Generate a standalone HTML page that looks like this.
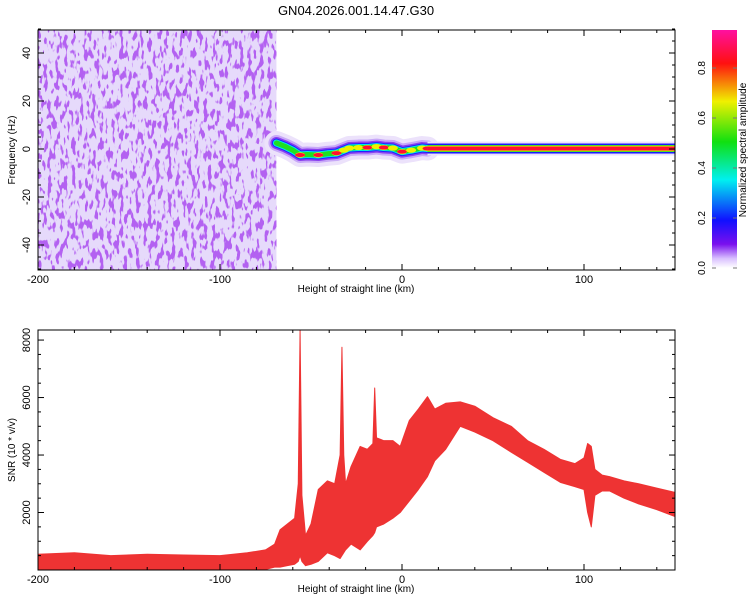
<!DOCTYPE html>
<html><head><meta charset="utf-8"><style>
html,body{margin:0;padding:0;background:#fff;}
svg{display:block;font-family:"Liberation Sans",sans-serif;}
</style></head><body>
<svg id="chart" width="750" height="600" viewBox="0 0 750 600">
<defs>
  <filter id="speck" x="0" y="0" width="1" height="1">
    <feTurbulence type="fractalNoise" baseFrequency="0.25 0.1" numOctaves="2" seed="7" result="n"/>
    <feColorMatrix in="n" type="matrix" values="0 0 0 0 0.45  0 0 0 0 0.12  0 0 0 0 0.88  0 0 0 12 -6.4"/>
  </filter>
  <linearGradient id="cbar" x1="0" y1="1" x2="0" y2="0">
    <stop offset="0" stop-color="#ffffff"/>
    <stop offset="0.04" stop-color="#d9c0ff"/>
    <stop offset="0.1" stop-color="#7a10ee"/>
    <stop offset="0.2" stop-color="#1010ff"/>
    <stop offset="0.37" stop-color="#00f0f0"/>
    <stop offset="0.53" stop-color="#10e010"/>
    <stop offset="0.7" stop-color="#f0f000"/>
    <stop offset="0.86" stop-color="#ff1010"/>
    <stop offset="1" stop-color="#ff10a0"/>
  </linearGradient>
  <clipPath id="clipTop"><rect x="38" y="30" width="637" height="240"/></clipPath>
  <clipPath id="clipBot"><rect x="38" y="330" width="637" height="240"/></clipPath>
</defs>
<text x="356" y="15" text-anchor="middle" font-size="13">GN04.2026.001.14.47.G30</text>
<g id="topPanel"></g>
<g id="botPanel"></g>
<g id="cbPanel"></g>
</svg>
<script>
// ---- data ----
const xTicks = [-200, -100, 0, 100];
const xTickLabels = ["-200", "-100", "0", "100"];
const fTicks = [-40, -20, 0, 20, 40];
const snrTicks = [2000, 4000, 6000, 8000];
const cbTicks = [0.0, 0.2, 0.4, 0.6, 0.8];
const noiseKm = [-200, -69];
const trackKm  = [-69, -64, -60, -56, -52, -46, -41, -36, -32, -29, -24, -19, -14, -10, -5, 0, 5, 11, 14];
const trackHz  = [2.5, 1.0, -0.5, -2.5, -2.3, -2.5, -2.0, -1.7, -0.5, 0.4, 0.6, 0.6, 1.0, 0.6, 0.4, -1.1, -0.5, 0.4, 0.2];
const trackAmp = [0.6, 0.55, 0.6, 0.9, 0.6, 0.95, 0.6, 0.9, 0.7, 0.8, 0.75, 0.9, 0.7, 0.9, 0.7, 0.95, 0.7, 0.8, 0.9];
const bandKm = [14, 150];
const bandHz = 0.2;
const snrKm   = [-200,-180,-160,-140,-120,-100,-85,-75,-70,-67,-63,-59,-57,-56,-55,-53,-50,-46,-41,-37,-34,-33,-32,-31,-28,-23,-19,-16,-15,-14,-10,-5,-1,4,9,14,18,24,32,40,50,60,69,78,87,95,100,102,104,106,110,114,122,130,140,150];
const snrLow  = [0,   20,  0,   10,  0,   0,   0,   20,  100, 100, 150, 200, 300, 500, 300, 150, 200, 300, 600, 500, 400, 500, 600, 700, 900, 700, 1000,1200,1300,1500,1600,1800,2000,2400,2800,3250,3800,4200,5000,4800,4500,4100,3750,3400,3050,2900,2800,2000,1500,2600,2750,2750,2500,2300,2100,1860];
const snrHigh = [550, 600, 500, 550, 520, 500, 600, 700, 900, 1400,1600,1800,3000,8350,2600,1200,1600,2800,3100,3000,4000,7750,4000,3000,3600,4300,4200,4400,6330,4600,4500,4500,4300,5200,5600,6030,5600,5800,5850,5700,5300,5000,4500,4200,3850,3700,3900,4400,4300,3500,3300,3250,3100,3000,2850,2700];

// ---- axes ----
const X0=38, X1=675;
const xs = km => X0 + (km + 200) / 350 * (X1 - X0);
const yTop = hz => 149 - hz * 2.4;
const yBot = v => 570 - v / 8350 * 240;
const NS = "http://www.w3.org/2000/svg";
function mk(tag, attrs, parent) {
  const e = document.createElementNS(NS, tag);
  for (const k in attrs) e.setAttribute(k, attrs[k]);
  parent.appendChild(e);
  return e;
}
const gTop = document.getElementById('topPanel');
const gBot = document.getElementById('botPanel');
const gCb = document.getElementById('cbPanel');

// ---- spectrogram ----
const gT = mk('g', {'clip-path': 'url(#clipTop)'}, gTop);
const bg = mk('rect', {x: xs(noiseKm[0]), y: 30, width: xs(noiseKm[1]) - xs(noiseKm[0]), height: 240, fill: '#e6dafb'}, gT);


const sp = mk('rect', {x: xs(noiseKm[0]), y: 30, width: xs(noiseKm[1]) - xs(noiseKm[0]), height: 240, fill: '#fff', filter: 'url(#speck)'}, gT);


const pts = trackKm.map((k, i) => xs(k) + ',' + yTop(trackHz[i])).join(' ');
const layers = [['#ece2fb', 24], ['#c8a8f8', 16], ['#8a40f0', 12], ['#2020ff', 9], ['#00e8e8', 7], ['#20e020', 5]];
layers.forEach(([c, w], i) => {
  const p = mk('polyline', {points: pts, fill: 'none', stroke: c, 'stroke-width': w, 'stroke-linejoin': 'round', 'stroke-linecap': 'round'}, gT);
  
  
});
trackKm.forEach((k, i) => {
  const a = trackAmp[i];
  if (a >= 0.7) {
    const e1 = mk('ellipse', {cx: xs(k), cy: yTop(trackHz[i]), rx: 5, ry: 2.6, fill: '#f0f000'}, gT);
    
    
  }
  if (a >= 0.85) {
    const e2 = mk('ellipse', {cx: xs(k), cy: yTop(trackHz[i]), rx: 5, ry: 2, fill: '#ff1030'}, gT);
    
    
  }
});
const bx0 = xs(bandKm[0]), bx1 = xs(bandKm[1]), bc = yTop(bandHz);
[['#ece2fb', 14], ['#1818ff', 10], ['#20e020', 7], ['#f0f000', 5.5], ['#ff1030', 4]].forEach(([c, h], i) => {
  const r = mk('rect', {x: bx0, y: bc - h / 2, width: bx1 - bx0, height: h, fill: c}, gT);
  
  
});
const fr = mk('rect', {x: 38, y: 30, width: 637, height: 240, fill: 'none', stroke: '#000', 'stroke-width': 1}, gTop);



// ---- SNR ----
const gB = mk('g', {'clip-path': 'url(#clipBot)'}, gBot);
let d = 'M' + snrKm.map((k, i) => xs(k) + ',' + yBot(snrHigh[i])).join(' L');
for (let i = snrKm.length - 1; i >= 0; i--) d += ' L' + xs(snrKm[i]) + ',' + yBot(snrLow[i]);
d += ' Z';
const area = mk('path', {d: d, fill: '#ee3333', stroke: '#ee3333', 'stroke-width': 1, 'stroke-linejoin': 'round'}, gB);


const fb = mk('rect', {x: 38, y: 330, width: 637, height: 240, fill: 'none', stroke: '#000', 'stroke-width': 1}, gBot);



// ---- ticks ----
function xAxis(parent, yT, yB, labelY, name) {
  for (let k = -200; k <= 150; k += 20) {
    const major = k % 100 === 0;
    const L = major ? 6 : 3;
    mk('line', {x1: xs(k), x2: xs(k), y1: yB, y2: yB - L, stroke: '#000'}, parent);
    mk('line', {x1: xs(k), x2: xs(k), y1: yT, y2: yT + L, stroke: '#000'}, parent);
  }
  xTicks.forEach((k, i) => {
    const t = mk('text', {x: xs(k), y: labelY, 'text-anchor': 'middle', 'font-size': 11}, parent);
    t.textContent = xTickLabels[i];
    
    
  });
  const tt = mk('text', {x: 356, y: labelY + 9, 'text-anchor': 'middle', 'font-size': 10}, parent);
  tt.textContent = 'Height of straight line (km)';
  
  
}
xAxis(gTop, 30, 270, 283, 'top');
xAxis(gBot, 330, 570, 583, 'bottom');

for (let h = -50; h <= 50; h += 5) {
  const L = h % 20 === 0 ? 6 : 3;
  mk('line', {x1: 38, x2: 38 + L, y1: yTop(h), y2: yTop(h), stroke: '#000'}, gTop);
  mk('line', {x1: 675, x2: 675 - L, y1: yTop(h), y2: yTop(h), stroke: '#000'}, gTop);
}
fTicks.forEach(h => {
  const t = mk('text', {transform: `translate(30,${yTop(h)}) rotate(-90)`, 'text-anchor': 'middle', 'font-size': 11}, gTop);
  t.textContent = String(h);
  
  
});
const yt1 = mk('text', {transform: 'translate(15,150) rotate(-90)', 'text-anchor': 'middle', 'font-size': 10}, gTop);
yt1.textContent = 'Frequency (Hz)';



for (let v = 500; v <= 8000; v += 500) {
  const L = v % 2000 === 0 ? 6 : 3;
  mk('line', {x1: 38, x2: 38 + L, y1: yBot(v), y2: yBot(v), stroke: '#000'}, gBot);
  mk('line', {x1: 675, x2: 675 - L, y1: yBot(v), y2: yBot(v), stroke: '#000'}, gBot);
}
snrTicks.forEach(v => {
  const t = mk('text', {transform: `translate(30,${yBot(v)}) rotate(-90)`, 'text-anchor': 'middle', 'font-size': 11}, gBot);
  t.textContent = String(v);
  
  
});
const yt2 = mk('text', {transform: 'translate(15,450) rotate(-90)', 'text-anchor': 'middle', 'font-size': 10}, gBot);
yt2.textContent = 'SNR (10 * v/v)';



// ---- colorbar ----
const yc = v => 268 - v * 250;
const cr = mk('rect', {x: 712, y: 30, width: 25, height: 238, fill: 'url(#cbar)'}, gCb);


cbTicks.forEach(v => {
  mk('line', {x1: 712, x2: 716, y1: yc(v), y2: yc(v), stroke: '#777'}, gCb);
  mk('line', {x1: 733, x2: 737, y1: yc(v), y2: yc(v), stroke: '#777'}, gCb);
  const t = mk('text', {transform: `translate(705,${yc(v)}) rotate(-90)`, 'text-anchor': 'middle', 'font-size': 10}, gCb);
  t.textContent = v.toFixed(1);
  
  
});
const ct = mk('text', {transform: 'translate(746,150) rotate(-90)', 'text-anchor': 'middle', 'font-size': 10}, gCb);
ct.textContent = 'Normalized spectral amplitude';


</script>
</body></html>
